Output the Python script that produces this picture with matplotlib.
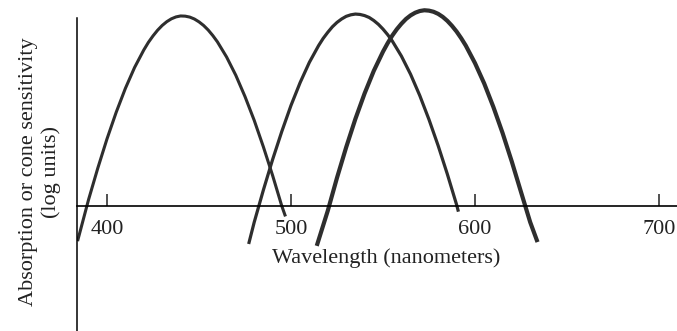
import matplotlib
matplotlib.use("Agg")
import matplotlib.pyplot as plt

# cone sensitivity curves, log units (0 = axis level)
s_wl = [384, 390, 395, 400, 405, 410, 415, 420, 422.5, 425, 427.5, 430, 432.5,
        435, 437.5, 440, 442.5, 445, 447.5, 450, 452.5, 455, 457.5, 460, 465,
        470, 475, 480, 485, 490, 495, 497]
s_val = [-0.185, 0.034, 0.199, 0.353, 0.493, 0.619, 0.729, 0.821, 0.861, 0.895,
         0.925, 0.950, 0.970, 0.985, 0.995, 1.000, 0.999, 0.994, 0.984, 0.969,
         0.950, 0.926, 0.897, 0.864, 0.784, 0.688, 0.576, 0.451, 0.311, 0.161,
         0.000, -0.055]

m_wl = [477, 480, 485, 490, 495, 500, 505, 510, 515, 517.5, 520, 522.5, 525,
        527.5, 530, 532.5, 535, 537.5, 540, 542.5, 545, 547.5, 550, 552.5, 555,
        560, 565, 570, 575, 580, 585, 590, 591]
m_val = [-0.200, -0.086, 0.084, 0.244, 0.392, 0.529, 0.650, 0.756, 0.844, 0.882,
         0.914, 0.943, 0.966, 0.984, 0.998, 1.006, 1.010, 1.008, 1.002, 0.992,
         0.976, 0.956, 0.931, 0.902, 0.869, 0.789, 0.693, 0.581, 0.455, 0.317,
         0.167, 0.007, -0.030]

l_wl = [514, 520, 525, 530, 535, 540, 545, 550, 552.5, 555, 557.5, 560, 562.5,
        565, 567.5, 570, 572.5, 575, 577.5, 580, 582.5, 585, 587.5, 590, 592.5,
        595, 600, 605, 610, 615, 620, 625, 630, 634]
l_val = [-0.210, -0.025, 0.148, 0.309, 0.458, 0.592, 0.711, 0.812, 0.856, 0.896,
         0.930, 0.959, 0.984, 1.003, 1.017, 1.026, 1.030, 1.028, 1.022, 1.011,
         0.995, 0.974, 0.948, 0.918, 0.883, 0.844, 0.752, 0.645, 0.521, 0.384,
         0.234, 0.074, -0.085, -0.190]

ticks = [400, 500, 600, 700]

plt.rcParams["font.family"] = ["Liberation Serif", "DejaVu Serif"]

fig = plt.figure(figsize=(6.77, 3.31), dpi=100)
ax = fig.add_axes([77 / 677, 0, 600 / 677, 1])

ink = "#2e2e2e"
ax.plot(s_wl, s_val, color=ink, lw=2.2, solid_capstyle="butt")
ax.plot(m_wl, m_val, color=ink, lw=2.3, solid_capstyle="butt")
ax.plot(l_wl, l_val, color=ink, lw=3.0, solid_capstyle="butt")

ax.set_xlim(383.7, 709.8)
ax.set_ylim(-0.658, 1.084)

for side in ["top", "right"]:
    ax.spines[side].set_visible(False)
ax.spines["bottom"].set_position(("data", 0))
ax.spines["bottom"].set_linewidth(1.2)
ax.spines["left"].set_linewidth(1.1)
ax.spines["left"].set_bounds(-0.658, 0.99)

ax.set_yticks([])
ax.set_xticks(ticks)
ax.set_xticklabels([str(t) for t in ticks])
ax.tick_params(axis="x", direction="in", length=9, width=1.1, pad=10,
               labelsize=16, colors="#222222")

ax.set_xlabel("Wavelength (nanometers)", fontsize=16, color="#222222")
ax.xaxis.set_label_coords(0.515, 0.22)
ax.xaxis.label.set_va("center")

ax.set_ylabel("Absorption or cone sensitivity\n(log units)", fontsize=16,
              color="#222222", linespacing=1.25)
ax.yaxis.set_label_coords(-0.062, 0.48)
ax.yaxis.label.set_va("center")

fig.savefig("out.png", dpi=100)
